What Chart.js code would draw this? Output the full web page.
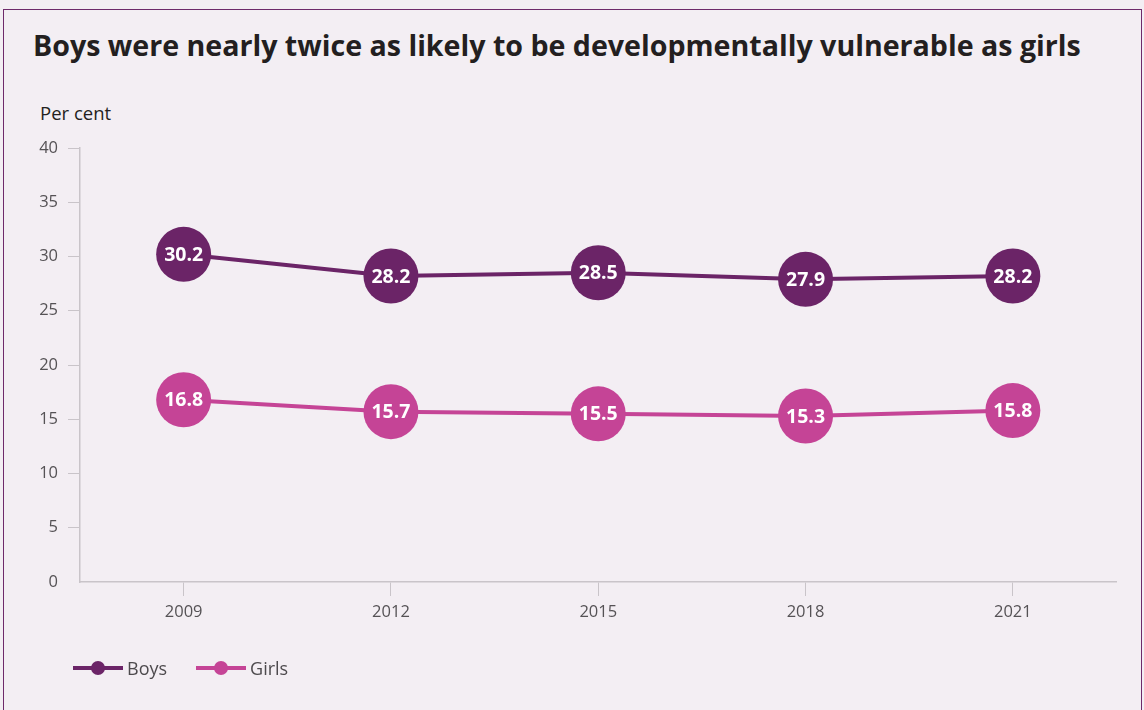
<!DOCTYPE html>
<html lang="en">
<head>
    <meta charset="UTF-8">
    <title>Developmental vulnerability by sex</title>
    <script src="https://cdn.jsdelivr.net/npm/chart.js@4.4.1/dist/chart.umd.min.js"></script>
    <style>
        *,*:after,*:before{
            box-sizing: border-box;
        }
        body{
            margin: 0;
            width: 1144px;
            height: 710px;
            overflow: hidden;
            background: #f3eef3;
            font-family: 'Open Sans', sans-serif;
            position: relative;
        }
        .frame{
            position: absolute;
            left: 3px;
            top: 9px;
            width: 1139px;
            height: 760px;
            border: 1.5px solid #6e2a6a;
        }
        h1{
            position: absolute;
            left: 33px;
            top: 31px;
            margin: 0;
            font-size: 28.6px;
            line-height: 1;
            font-weight: 700;
            color: #231f20;
            white-space: nowrap;
        }
        .unit{
            position: absolute;
            left: 40px;
            top: 100px;
            font-size: 18.5px;
            color: #231f20;
        }
        .wrap{
            position: absolute;
            left: 0;
            top: 0;
            width: 1144px;
            height: 710px;
        }
        #legend{
            position: absolute;
            left: 73px;
            top: 656px;
            display: flex;
            align-items: center;
            font-size: 18px;
            color: #4d4a4d;
        }
        #legend .item{
            display: flex;
            align-items: center;
            margin-right: 29px;
        }
        #legend .sw{
            position: relative;
            width: 50px;
            height: 4px;
            margin-right: 4px;
        }
        #legend .sw span{
            position: absolute;
            left: 18px;
            top: -5px;
            width: 14px;
            height: 14px;
            border-radius: 50%;
        }
    </style>
</head>
<body>
    <div class="frame"></div>
    <h1>Boys were nearly twice as likely to be developmentally vulnerable as girls</h1>
    <div class="unit">Per cent</div>
    <div class="wrap"><canvas id="canvas"></canvas></div>
    <div id="legend"></div>

<script>
    var years = ['2009', '2012', '2015', '2018', '2021'];
    var boys = [30.2, 28.2, 28.5, 27.9, 28.2];
    var girls = [16.8, 15.7, 15.5, 15.3, 15.8];
    var yTicks = [0, 5, 10, 15, 20, 25, 30, 35, 40];

    var boysColor = '#6b2467';
    var girlsColor = '#c54496';
    var axisColor = '#c9c4c9';

    Chart.defaults.font.family = "'Open Sans', sans-serif";

    // value written in white inside each bubble
    var bubbleLabels = {
        id: 'bubbleLabels',
        afterDatasetsDraw: function(chart){
            var ctx = chart.ctx;
            ctx.save();
            ctx.fillStyle = '#ffffff';
            ctx.font = "bold 19.5px 'Open Sans'";
            ctx.textAlign = 'center';
            ctx.textBaseline = 'middle';
            chart.data.datasets.forEach(function(ds, i){
                chart.getDatasetMeta(i).data.forEach(function(pt, j){
                    ctx.fillText(ds.data[j].toFixed(1), pt.x, pt.y + 1);
                });
            });
            ctx.restore();
        }
    };

    function series(label, values, color){
        return {
            label: label,
            data: values,
            borderColor: color,
            backgroundColor: color,
            borderWidth: 4,
            pointRadius: 27.5,
            pointHoverRadius: 27.5,
            pointBorderWidth: 0,
            tension: 0
        };
    }

    var chart = new Chart(document.getElementById('canvas'), {
        type: 'line',
        data: {
            labels: years,
            datasets: [series('Boys', boys, boysColor), series('Girls', girls, girlsColor)]
        },
        plugins: [bubbleLabels],
        options: {
            responsive: true,
            maintainAspectRatio: false,
            animation: false,
            events: [],
            layout: {
                padding: {left: 0, top: 148, right: 27, bottom: 88}
            },
            plugins: {
                legend: {display: false},
                tooltip: {enabled: false}
            },
            scales: {
                x: {
                    offset: true,
                    grid: {
                        offset: false,
                        drawOnChartArea: false,
                        color: axisColor,
                        tickLength: 14
                    },
                    border: {color: axisColor, width: 1.5},
                    ticks: {
                        color: '#555255',
                        font: {size: 16.5},
                        padding: 6,
                        maxRotation: 0
                    },
                    afterFit: function(scale){ scale.height = 40; }
                },
                y: {
                    min: 0,
                    max: 40,
                    afterBuildTicks: function(scale){
                        scale.ticks = yTicks.map(function(v){ return {value: v}; });
                    },
                    grid: {
                        drawOnChartArea: false,
                        color: function(c){ return c.tick && c.tick.value === 0 ? 'rgba(0,0,0,0)' : axisColor; },
                        tickLength: 12
                    },
                    border: {color: axisColor, width: 1.5},
                    ticks: {
                        color: '#555255',
                        font: {size: 16.5},
                        padding: 10
                    },
                    afterFit: function(scale){ scale.width = 80; }
                }
            }
        }
    });

    // legend: short line with a dot, then the series name
    var legend = document.getElementById('legend');
    chart.data.datasets.forEach(function(ds){
        var item = document.createElement('div');
        item.className = 'item';
        item.innerHTML = '<div class="sw" style="background:' + ds.borderColor + '">' +
            '<span style="background:' + ds.borderColor + '"></span></div>' + ds.label;
        legend.appendChild(item);
    });
</script>
</body>
</html>
